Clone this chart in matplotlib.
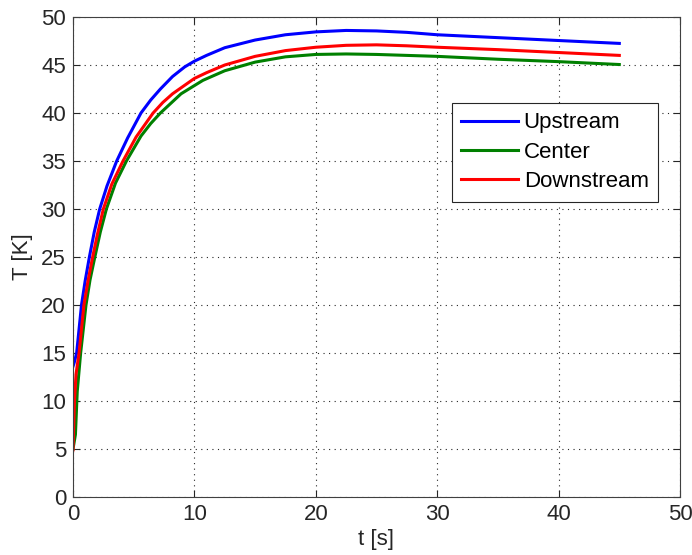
import matplotlib
matplotlib.use("Agg")
import matplotlib.pyplot as plt

plt.rcParams['font.family'] = ['Liberation Sans', 'DejaVu Sans']

# Data
t_up = [0, 0.1, 0.3, 0.7, 1.0, 1.35, 1.75, 2.2, 2.8, 3.6, 4.5, 5.6, 6.4, 7.2, 8.2, 9.2, 10, 11, 12.5, 15, 17.5, 20, 22.5, 25, 27.5, 30, 35, 40, 45]
T_up = [13.6, 14.0, 15, 20, 22.5, 25, 27.6, 30, 32.4, 35, 37.4, 40, 41.35, 42.5, 43.8, 44.8, 45.4, 46.0, 46.8, 47.6, 48.15, 48.45, 48.6, 48.55, 48.4, 48.15, 47.85, 47.55, 47.25]

t_ce = [0, 0.2, 0.35, 0.63, 1.07, 1.4, 1.8, 2.25, 2.75, 3.5, 4.4, 5.6, 6.4, 7.2, 8.9, 10.7, 12.5, 15, 17.5, 20, 22.5, 25, 30, 35, 40, 45]
T_ce = [5.0, 6.5, 11, 15, 20, 22.6, 25, 27.6, 30, 32.7, 35, 37.6, 38.9, 40, 42.0, 43.4, 44.4, 45.3, 45.85, 46.1, 46.15, 46.1, 45.9, 45.6, 45.35, 45.05]

t_dn = [0, 0.12, 0.25, 0.5, 0.9, 1.25, 1.62, 2.0, 2.5, 3.2, 4.12, 5.2, 6.6, 7.4, 8.2, 10, 11, 12.5, 15, 17.5, 20, 22.5, 25, 27.5, 30, 35, 40, 45]
T_dn = [4.9, 10, 12.8, 15, 20, 22.6, 25, 27.3, 30, 32.6, 35, 37.5, 40, 41.1, 42.0, 43.6, 44.2, 45.0, 45.9, 46.5, 46.85, 47.05, 47.1, 47.0, 46.85, 46.6, 46.3, 46.0]

labels = ['Upstream', 'Center', 'Downstream']
colors = ['#0000ff', '#008000', '#ff0000']
xticks = [0, 10, 20, 30, 40, 50]
yticks = [0, 5, 10, 15, 20, 25, 30, 35, 40, 45, 50]

FS = 16
fig = plt.figure(figsize=(6.92, 5.55), dpi=100)
ax = fig.add_axes([73/692, 58/555, 607/692, 480/555])

for tt, yy, lab, c in zip([t_up, t_ce, t_dn], [T_up, T_ce, T_dn], labels, colors):
    ax.plot(tt, yy, color=c, lw=2.2, label=lab)

ax.set_xlim(0, 50)
ax.set_ylim(0, 50)
ax.set_xticks(xticks)
ax.set_yticks(yticks)
ax.tick_params(direction='in', top=True, right=True, labelsize=FS, length=5, width=0.8,
               colors='#262626', labelcolor='#262626', pad=5)
ax.grid(True, linestyle=(0, (1, 4)), color='#262626', lw=0.8)
for sp in ax.spines.values():
    sp.set_color('#404040')
    sp.set_linewidth(0.8)

ax.set_xlabel('t [s]', fontsize=FS, color='#262626', labelpad=3)
ax.set_ylabel('T [K]', fontsize=FS, color='#262626', labelpad=6)

leg = ax.legend(loc='upper right', bbox_to_anchor=(0.9638, 0.8208), fontsize=FS,
                handlelength=2.55, handletextpad=0.25, labelspacing=0.38,
                borderpad=0.42, borderaxespad=0, fancybox=False, framealpha=1,
                edgecolor='#262626')
leg.get_frame().set_linewidth(0.8)

fig.savefig('out.png', dpi=100)
